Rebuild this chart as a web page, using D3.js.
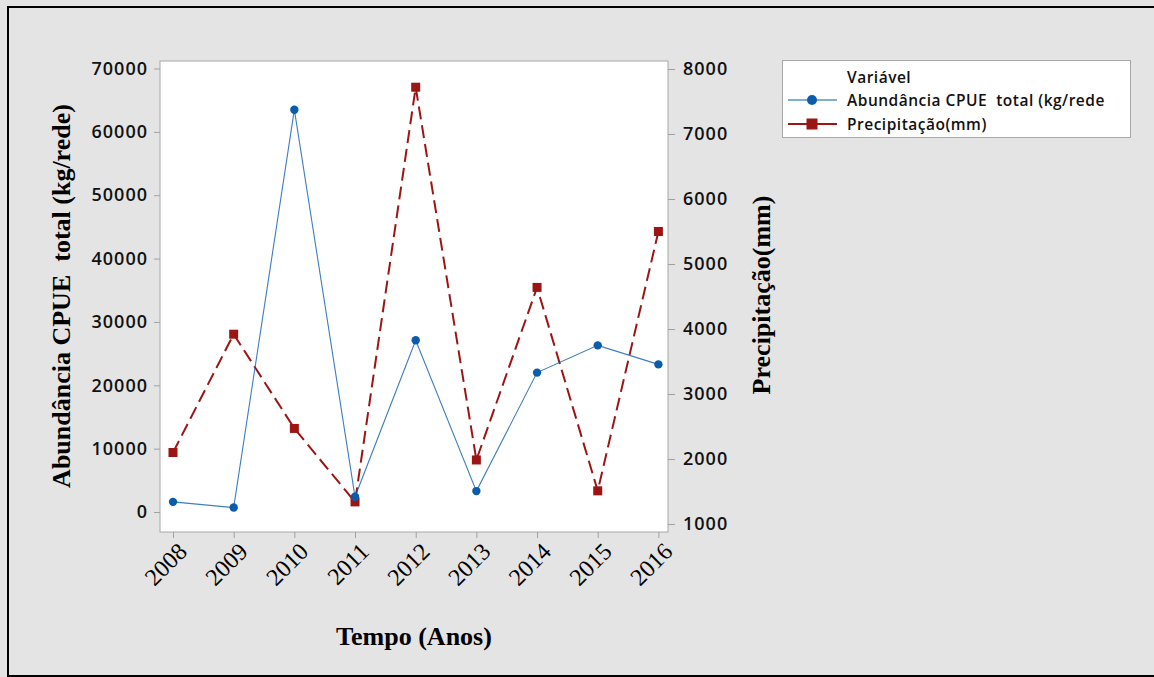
<!DOCTYPE html>
<html><head><meta charset="utf-8">
<script src="https://cdn.jsdelivr.net/npm/d3@7/dist/d3.min.js"></script>
<style>
html,body{margin:0;padding:0;background:#e4e4e4;}
svg{display:block;}
text{white-space:pre;}
</style></head>
<body>
<script>
const years = [2008, 2009, 2010, 2011, 2012, 2013, 2014, 2015, 2016];
const cpue = [1600, 700, 63500, 2400, 27100, 3300, 22000, 26300, 23300];
const precip = [2100, 3920, 2470, 1340, 7720, 1985, 4640, 1510, 5500];
const leftTicks = [0, 10000, 20000, 30000, 40000, 50000, 60000, 70000];
const rightTicks = [1000, 2000, 3000, 4000, 5000, 6000, 7000, 8000];
const seriesNames = ["Abundância CPUE  total (kg/rede", "Precipitação(mm)"];
const legendTitle = "Variável";
const xTitle = "Tempo (Anos)";
const yLeftTitle = "Abundância CPUE  total (kg/rede)";
const yRightTitle = "Precipitação(mm)";

const W = 1154, H = 677;
const plot = {l:160, t:61, r:668, b:532};
const blue = "#0b5cad", red = "#9c1515";

const svg = d3.select("body").append("svg").attr("width", W).attr("height", H);
svg.append("rect").attr("x",0).attr("y",0).attr("width",W).attr("height",H).attr("fill","#e4e4e4");
svg.append("rect").attr("x",8).attr("y",7).attr("width",W+20).attr("height",669)
  .attr("fill","#e4e4e4").attr("stroke","#000").attr("stroke-width",2);

const x = d3.scaleLinear().domain([2008, 2016]).range([173, 658.4]);
const yL = d3.scaleLinear().domain([0, 70000]).range([512, 68.5]);
const yR = d3.scaleLinear().domain([1000, 8000]).range([524, 69]);

svg.append("rect").attr("x",plot.l).attr("y",plot.t).attr("width",plot.r-plot.l).attr("height",plot.b-plot.t)
  .attr("fill","#fff").attr("stroke","#a8a8a8").attr("stroke-width",1);

const tickFont = "'Open Sans', sans-serif";
const gl = svg.append("g").attr("transform",`translate(${plot.l},0)`)
  .call(d3.axisLeft(yL).tickValues(leftTicks).tickSize(6).tickPadding(6).tickFormat(d3.format("d")));
const gr = svg.append("g").attr("transform",`translate(${plot.r},0)`)
  .call(d3.axisRight(yR).tickValues(rightTicks).tickSize(7).tickPadding(8).tickFormat(d3.format("d")));
[gl, gr].forEach(g => {
  g.select(".domain").remove();
  g.selectAll(".tick line").attr("stroke","#a0a0a0");
  g.selectAll(".tick text").attr("fill","#111").style("font-family",tickFont)
    .style("font-size","18px").style("font-weight","600").style("letter-spacing","1px");
});
const gb = svg.append("g").attr("transform",`translate(0,${plot.b})`)
  .call(d3.axisBottom(x).tickValues(years).tickSize(6).tickFormat(d3.format("d")));
gb.select(".domain").remove();
gb.selectAll(".tick line").attr("stroke","#a0a0a0");
gb.selectAll(".tick text").attr("fill","#000")
  .style("font-family","'Liberation Serif', serif").style("font-size","24px")
  .attr("text-anchor","end").attr("y",0).attr("dy","0")
  .attr("transform","translate(15,21) rotate(-45)");

const lineR = d3.line().x((d,i)=>x(years[i])).y(d=>yR(d));
const lineL = d3.line().x((d,i)=>x(years[i])).y(d=>yL(d));
svg.append("path").datum(precip).attr("d",lineR).attr("fill","none")
  .attr("stroke",red).attr("stroke-width",2).attr("stroke-dasharray","13,6");
svg.selectAll(".sq").data(precip).enter().append("rect")
  .attr("x",(d,i)=>x(years[i])-4.5).attr("y",d=>yR(d)-4.5).attr("width",9).attr("height",9).attr("fill",red);
svg.append("path").datum(cpue).attr("d",lineL).attr("fill","none")
  .attr("stroke",blue).attr("stroke-width",1.1).attr("opacity",0.8);
svg.selectAll(".dot").data(cpue).enter().append("circle")
  .attr("cx",(d,i)=>x(years[i])).attr("cy",d=>yL(d)).attr("r",4.2).attr("fill",blue);

const serif = "'Liberation Serif', 'Times New Roman', serif";
svg.append("text").attr("x",414).attr("y",645).attr("text-anchor","middle")
  .style("font-family",serif).style("font-weight","bold").style("font-size","26px").text(xTitle);
svg.append("text").attr("transform","translate(70,296) rotate(-90)").attr("text-anchor","middle")
  .style("font-family",serif).style("font-weight","bold").style("font-size","26px").text(yLeftTitle);
svg.append("text").attr("transform","translate(770,295) rotate(-90)").attr("text-anchor","middle")
  .style("font-family",serif).style("font-weight","bold").style("font-size","26px").text(yRightTitle);

const lg = svg.append("g");
lg.append("rect").attr("x",782.5).attr("y",60.5).attr("width",348).attr("height",77)
  .attr("fill","#fff").attr("stroke","#a8a8a8");
const lf = "'Open Sans', sans-serif";
lg.append("text").attr("x",847).attr("y",83).style("font-family",lf).style("font-weight","600")
  .style("font-size","15.5px").style("letter-spacing","0.5px").attr("fill","#111").text(legendTitle);
const items = [{c:blue, shape:"circle"}, {c:red, shape:"square"}];
items.forEach((it,i)=>{
  const yy = 100 + i*24;
  lg.append("line").attr("x1",788).attr("x2",837).attr("y1",yy).attr("y2",yy)
    .attr("stroke",it.c).attr("stroke-width",it.shape==="circle"?1.2:2);
  if (it.shape==="circle") lg.append("circle").attr("cx",812).attr("cy",yy).attr("r",5).attr("fill",it.c);
  else lg.append("rect").attr("x",806.5).attr("y",yy-5.5).attr("width",11).attr("height",11).attr("fill",it.c);
  lg.append("text").attr("x",847).attr("y",yy+5.5).style("font-family",lf).style("font-weight","600")
    .style("font-size","15.5px").style("letter-spacing","0.5px").attr("fill","#111").text(seriesNames[i]);
});
</script>
</body></html>
